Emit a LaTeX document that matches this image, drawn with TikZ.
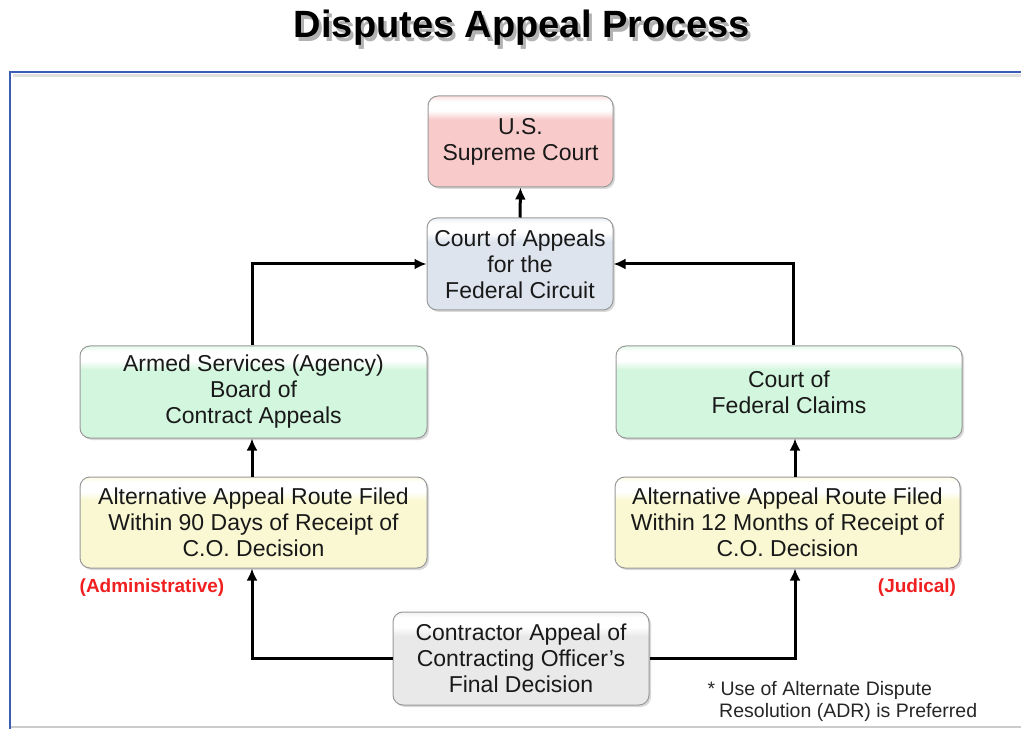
\documentclass[tikz,border=0pt]{standalone}
\usepackage{fontspec}
\setmainfont{Liberation Sans}
\usetikzlibrary{arrows.meta,shadows}
\definecolor{pinkc}{HTML}{F8CACA}
\definecolor{bluec}{HTML}{DDE4EE}
\definecolor{greenc}{HTML}{D3F6DE}
\definecolor{yellowc}{HTML}{FAF8D2}
\definecolor{grayc}{HTML}{E9E9E9}
\definecolor{framec}{HTML}{3A5DB5}
\definecolor{redc}{HTML}{F02020}
\newcommand{\mkshade}[1]{\pgfdeclareverticalshading{sh#1}{100bp}{color(0bp)=(#1); color(62bp)=(#1); color(67bp)=(white); color(72bp)=(white); color(75bp)=(#1!60!white); color(100bp)=(#1!60!white)}}
\mkshade{pinkc}\mkshade{bluec}\mkshade{greenc}\mkshade{yellowc}\mkshade{grayc}
\newcommand{\titletext}{Disputes Appeal Process}
\tikzset{
  box/.style={draw=black!40, line width=1pt, rounded corners=10pt, align=center,
    font=\fontsize{23}{26}\selectfont, text=black!90,
    drop shadow={shadow xshift=2pt, shadow yshift=-2pt, fill=black!25, opacity=0.6},
    inner sep=0pt},
  conn/.style={line width=3pt, black, -{Latex[length=12pt,width=11pt]}},
  note/.style={font=\fontsize{19}{22}\selectfont\bfseries, text=redc},
}
\begin{document}
\begin{tikzpicture}[x=1pt,y=-1pt]
\useasboundingbox (0,0) rectangle (1021,730);
% frame
\draw[black!20, line width=1.5pt] (10,727) -- (1021,727);
\draw[black!12, line width=3pt] (13,75.5) -- (1021,75.5);
\draw[framec, line width=2.5pt] (10,729) -- (10,72) -- (1021,72);
% title with shadow in one node
\node[font=\fontsize{38}{40}\selectfont\bfseries] (title) at (522,30)
  {\makebox[0pt][l]{\hspace{3pt}\raisebox{-4pt}{\color{black!30}\titletext}}\titletext};
% boxes
\node[box, shading=shpinkc, minimum width=185pt, minimum height=91pt] (sup) at (520.5,141.5) {U.S.\\Supreme Court};
\node[box, shading=shbluec, minimum width=186pt, minimum height=92pt] (cafc) at (520,264) {Court of Appeals\\for the\\Federal Circuit};
\node[box, shading=shgreenc, minimum width=347pt, minimum height=92pt] (asbca) at (253.5,392) {Armed Services (Agency)\\Board of\\Contract Appeals};
\node[box, shading=shgreenc, minimum width=346pt, minimum height=92pt] (cofc) at (789,392) {Court of\\Federal Claims};
\node[box, shading=shyellowc, minimum width=347pt, minimum height=91pt] (altl) at (253.5,522.5) {Alternative Appeal Route Filed\\Within 90 Days of Receipt of\\C.O. Decision};
\node[box, shading=shyellowc, minimum width=345pt, minimum height=91pt] (altr) at (787.5,522.5) {Alternative Appeal Route Filed\\Within 12 Months of Receipt of\\C.O. Decision};
\node[box, shading=shgrayc, minimum width=256pt, minimum height=93pt] (con) at (521,658.5)
  {Contractor Appeal of\\Contracting Officer's\\Final Decision};
% notes
\node[note] (adm) at (152,588) {(Administrative)};
\node[note] (jud) at (917,588) {(Judical)};
\node[font=\fontsize{19.5}{22}\selectfont, text=black!85, align=left, anchor=north west] (adr) at (704,678)
  {* Use of Alternate Dispute\\\hspace*{0.6em}Resolution (ADR) is Preferred};
% connectors
\draw[conn] (con.west) -| (altl.south -| 252,0);
\draw[conn] (con.east) -| (altr.south -| 795,0);
\draw[conn] (altl.north -| 252,0) -- (asbca.south -| 252,0);
\draw[conn] (altr.north -| 795,0) -- (cofc.south -| 795,0);
\draw[conn] (asbca.north -| 252,0) |- (cafc.west);
\draw[conn] (cofc.north -| 793,0) |- (cafc.east);
\draw[conn] (cafc.north) -- (sup.south);
\end{tikzpicture}
\end{document}
